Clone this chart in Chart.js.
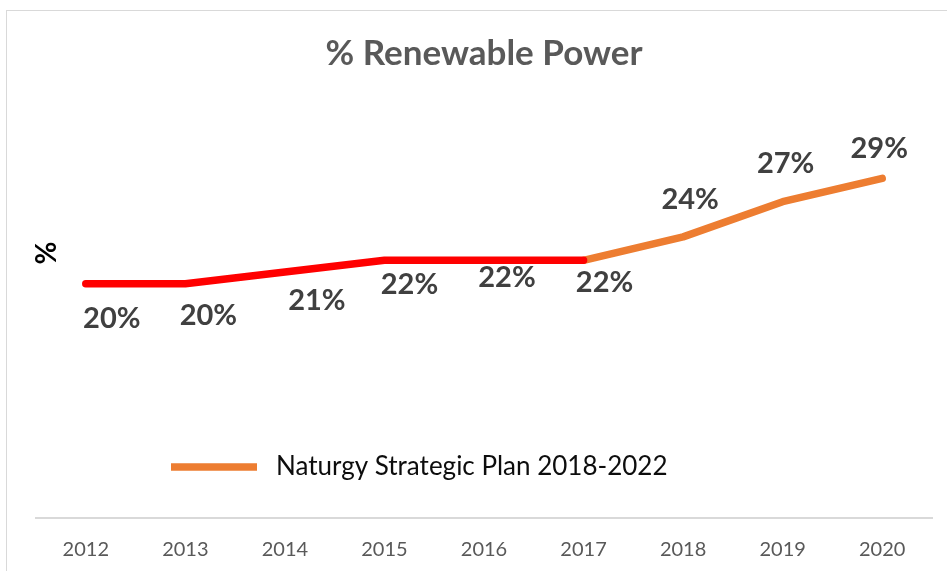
<!DOCTYPE html>
<html>
<head>
<meta charset="utf-8">
<title>% Renewable Power</title>
<script src="https://cdn.jsdelivr.net/npm/chart.js@4/dist/chart.umd.min.js"></script>
<style>
  body { margin: 0; background: #fff; }
  #frame { position: absolute; left: 6px; top: 10px; width: 945px; height: 600px; border: 1px solid #d9d9d9; box-sizing: border-box; }
  #myChart { position: absolute; left: 0; top: 0; }
</style>
</head>
<body>
<div id="frame"></div>
<canvas id="myChart" width="947" height="571"></canvas>
<script>
var years = ["2012", "2013", "2014", "2015", "2016", "2017", "2018", "2019", "2020"];
// actual share up to 2017, plan figures after that
var actualShare = [20, 20, 21, 22, 22, 22, null, null, null];
var planShare = [null, null, null, null, null, 22, 24, 27, 29];
var planLabel = "Naturgy Strategic Plan 2018-2022";

// where each value label sits relative to its point
var labelOffsets = [
  [26, 35], [23, 32], [32, 29], [25, 24], [23, 17],
  [21, 22], [7, -37], [3, -38], [-3, -30]
];

var FONT = "Lato, 'Open Sans', sans-serif";

var extras = {
  id: "extras",
  afterDatasetsDraw: function (chart) {
    var ctx = chart.ctx;
    var area = chart.chartArea;
    var metaA = chart.getDatasetMeta(0);
    var metaP = chart.getDatasetMeta(1);

    ctx.save();
    // value labels
    ctx.font = "bold 29px " + FONT;
    ctx.fillStyle = "#404040";
    ctx.textAlign = "center";
    ctx.textBaseline = "middle";
    for (var i = 0; i < years.length; i++) {
      var v = actualShare[i] != null ? actualShare[i] : planShare[i];
      var pt = actualShare[i] != null ? metaA.data[i] : metaP.data[i];
      ctx.fillText(v + "%", pt.x + labelOffsets[i][0], pt.y + labelOffsets[i][1]);
    }

    // axis title
    ctx.save();
    ctx.translate(47, 253);
    ctx.rotate(-Math.PI / 2);
    ctx.font = "bold 28px " + FONT;
    ctx.fillStyle = "#000";
    ctx.fillText("%", 0, 0);
    ctx.restore();

    // legend inside the plot
    var lx = area.left + 135, ly = area.bottom - 51;
    ctx.strokeStyle = "#ED7D31";
    ctx.lineWidth = 7.5;
    ctx.beginPath();
    ctx.moveTo(lx, ly);
    ctx.lineTo(lx + 86, ly);
    ctx.stroke();
    ctx.font = "26px " + FONT;
    ctx.fillStyle = "#0d0d0d";
    ctx.textAlign = "left";
    ctx.fillText(planLabel, lx + 105, ly);
    ctx.restore();
  }
};

new Chart("myChart", {
  type: "line",
  data: {
    labels: years,
    datasets: [{
      label: "Actual",
      data: actualShare,
      borderColor: "#FF0000",
      borderWidth: 7.5,
      borderCapStyle: "round",
      borderJoinStyle: "round",
      pointRadius: 0,
      tension: 0
    }, {
      label: planLabel,
      data: planShare,
      borderColor: "#ED7D31",
      borderWidth: 7.5,
      borderCapStyle: "round",
      borderJoinStyle: "round",
      pointRadius: 0,
      tension: 0
    }]
  },
  options: {
    responsive: false,
    animation: false,
    layout: { padding: { left: 36, right: 15, top: 10, bottom: -3 } },
    plugins: {
      legend: { display: false },
      tooltip: { enabled: false },
      title: {
        display: true,
        text: "% Renewable Power",
        color: "#595959",
        font: { family: FONT, size: 35, weight: "bold" },
        padding: { top: 23, bottom: 33 }
      }
    },
    scales: {
      x: {
        offset: true,
        grid: { display: false },
        border: { display: true, color: "#d9d9d9", width: 2 },
        ticks: {
          color: "#595959",
          font: { family: FONT, size: 20 },
          padding: 12
        }
      },
      y: {
        display: false,
        min: 0,
        max: 35
      }
    }
  },
  plugins: [extras]
});
</script>
</body>
</html>
